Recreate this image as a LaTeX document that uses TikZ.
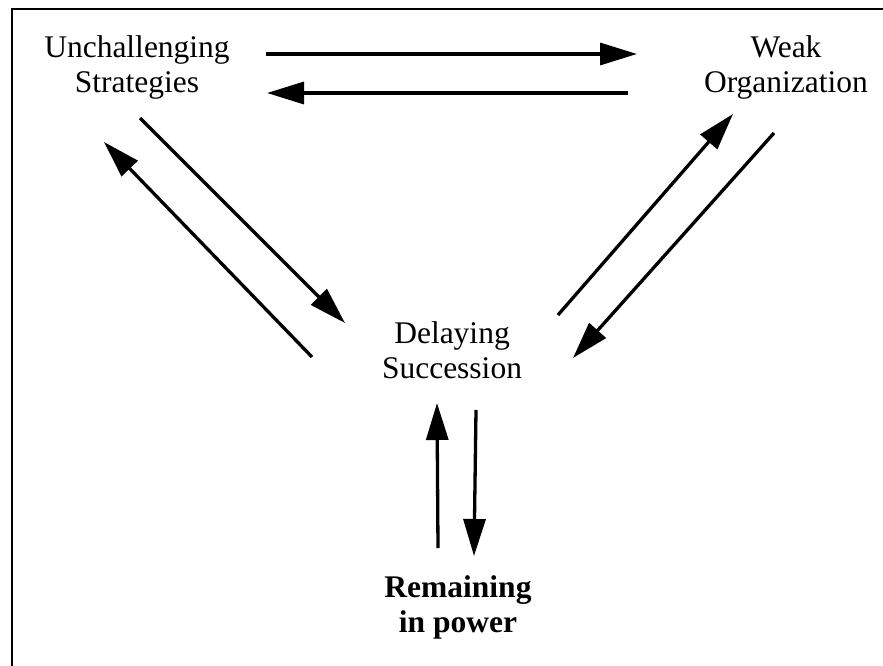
\documentclass[tikz,border=0pt]{standalone}
\usepackage{fontspec}
\setmainfont{Liberation Serif}
\usetikzlibrary{arrows.meta}
\begin{document}
\begin{tikzpicture}[x=1pt,y=1pt,
  lbl/.style={align=center,inner sep=0pt,font=\fontsize{31.5}{35}\selectfont},
  conn/.style={line width=3.3pt,-{Triangle[length=37pt,width=22pt]}},
  frame/.style={line width=2.5pt}]
\useasboundingbox (0,0) rectangle (883,-666);
% frame (top and left edges)
\draw[frame] (12,-666) -- (12,-9) -- (883,-9);
% nodes
\node[lbl] (us) at (137,-67) {Unchallenging\\Strategies};
\node[lbl] (wo) at (786,-67) {Weak\\Organization};
\node[lbl] (ds) at (452,-350) {Delaying\\Succession};
\node[lbl,font=\fontsize{31.5}{35}\selectfont\bfseries] (rp) at (458,-607) {Remaining\\in power};
% connector endpoints
\coordinate (usA) at (266,-54);  \coordinate (woA) at (637,-54);
\coordinate (woB) at (628,-93);  \coordinate (usB) at (267,-93);
\coordinate (usC) at (140,-118); \coordinate (dsC) at (345,-323);
\coordinate (dsD) at (312,-357); \coordinate (usD) at (104,-142);
\coordinate (dsE) at (558,-315); \coordinate (woE) at (733,-114);
\coordinate (woF) at (774,-133); \coordinate (dsF) at (573,-358);
\coordinate (rpG) at (438,-548); \coordinate (dsG) at (437,-403);
\coordinate (dsH) at (476,-410); \coordinate (rpH) at (474,-556);
% connectors
\draw[conn] (usA) -- (woA);
\draw[conn] (woB) -- (usB);
\draw[conn] (usC) -- (dsC);
\draw[conn] (dsD) -- (usD);
\draw[conn] (dsE) -- (woE);
\draw[conn] (woF) -- (dsF);
\draw[conn] (rpG) -- (dsG);
\draw[conn] (dsH) -- (rpH);
\end{tikzpicture}
\end{document}
